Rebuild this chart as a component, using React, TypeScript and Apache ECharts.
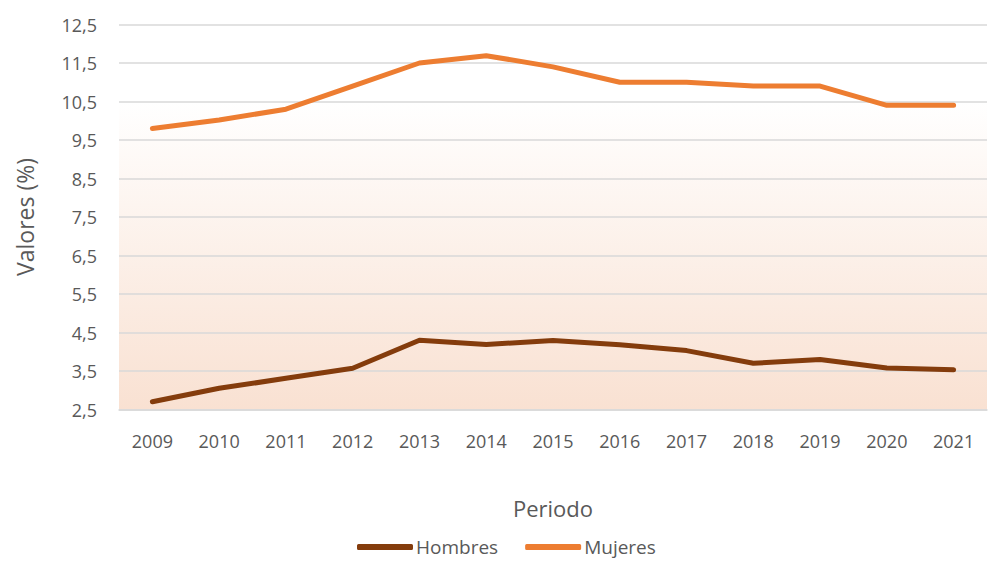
import React, { useEffect, useRef } from "react";
import * as echarts from "echarts";

const years = ["2009", "2010", "2011", "2012", "2013", "2014", "2015", "2016", "2017", "2018", "2019", "2020", "2021"];
const hombres = [2.7, 3.05, 3.31, 3.57, 4.3, 4.19, 4.29, 4.18, 4.03, 3.7, 3.8, 3.58, 3.53];
const mujeres = [9.8, 10.02, 10.3, 10.9, 11.5, 11.69, 11.4, 11.0, 11.0, 10.9, 10.9, 10.4, 10.4];
const yMin = 2.5;
const yMax = 12.5;
const yStep = 1;

const FONT = "'Open Sans', Lato, sans-serif";
const TXT = "#595959";

export default function App() {
  const ref = useRef<HTMLDivElement>(null);
  useEffect(() => {
    if (!ref.current) return;
    const chart = echarts.init(ref.current, undefined, { renderer: "svg" });
    chart.setOption({
      animation: false,
      backgroundColor: "#ffffff",
      textStyle: { fontFamily: FONT },
      grid: {
        left: 119,
        right: 1,
        top: 24.5,
        bottom: 152.5,
        show: true,
        borderWidth: 0,
        backgroundColor: new echarts.graphic.LinearGradient(0, 0, 0, 1, [
          { offset: 0, color: "#FFFFFF" },
          { offset: 0.2, color: "#FFFFFF" },
          { offset: 1, color: "#F9E1D2" },
        ]),
      },
      legend: {
        bottom: 0,
        left: 352,
        itemWidth: 56,
        itemHeight: 6,
        itemGap: 27,
        icon: "roundRect",
        textStyle: { color: TXT, fontSize: 19, fontFamily: FONT, padding: [0, 0, 0, -2], lineHeight: 20 },
        data: ["Hombres", "Mujeres"],
      },
      xAxis: {
        type: "category",
        data: years,
        boundaryGap: true,
        name: "Periodo",
        nameLocation: "middle",
        nameGap: 87,
        nameTextStyle: { color: TXT, fontSize: 22, fontFamily: FONT },
        axisLine: { show: true, lineStyle: { color: "#D9D9D9", width: 1.5 } },
        axisTick: { show: false },
        axisLabel: { color: TXT, fontSize: 18, margin: 22, fontFamily: FONT },
      },
      yAxis: {
        type: "value",
        min: yMin,
        max: yMax,
        interval: yStep,
        name: "Valores (%)",
        nameLocation: "middle",
        nameGap: 83,
        nameTextStyle: { color: TXT, fontSize: 23, fontFamily: FONT },
        axisLine: { show: false },
        axisTick: { show: false },
        axisLabel: {
          color: TXT,
          fontSize: 18,
          margin: 22,
          fontFamily: FONT,
          formatter: (v: number) => v.toFixed(1).replace(".", ","),
        },
        splitLine: { lineStyle: { color: "#D9D9D9", width: 1.5 } },
      },
      series: [
        {
          name: "Hombres",
          type: "line",
          data: hombres,
          showSymbol: false,
          symbol: "none",
          lineStyle: { color: "#843C0C", width: 5, cap: "round", join: "round" },
          itemStyle: { color: "#843C0C" },
        },
        {
          name: "Mujeres",
          type: "line",
          data: mujeres,
          showSymbol: false,
          symbol: "none",
          lineStyle: { color: "#ED7D31", width: 5, cap: "round", join: "round" },
          itemStyle: { color: "#ED7D31" },
        },
      ],
    });
    return () => chart.dispose();
  }, []);
  return (
    <div
      ref={ref}
      style={{ position: "fixed", left: 0, top: 0, width: 988, height: 562 }}
    />
  );
}
